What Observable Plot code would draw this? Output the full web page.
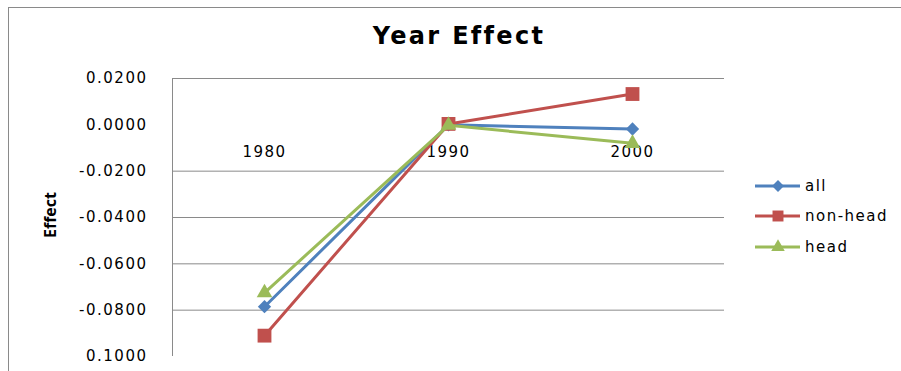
<!DOCTYPE html>
<html>
<head>
<meta charset="utf-8">
<script src="https://cdn.jsdelivr.net/npm/d3@7"></script>
<script src="https://cdn.jsdelivr.net/npm/@observablehq/plot@0.6"></script>
<style>
  html, body { margin: 0; padding: 0; background: #fff; }
  #wrap { position: relative; width: 901px; height: 371px; overflow: hidden; font-family: "DejaVu Sans", sans-serif; }
  #border { position: absolute; left: 8px; top: 7px; width: 920px; height: 400px; border: 1px solid #8a8a8a; box-sizing: border-box; }
  #title { position: absolute; left: 459px; top: 22px; transform: translateX(-50%); font: bold 24px "DejaVu Sans", sans-serif; letter-spacing: 2.3px; color: #000; white-space: nowrap; }
  #ylabel { position: absolute; left: 50px; top: 215px; transform: translate(-50%, -50%) rotate(-90deg); font-family: "Open Sans", sans-serif; font-weight: 700; font-size: 16px; line-height: 1; color: #000; white-space: nowrap; }
  #legend { position: absolute; left: 0; top: 0; }
  #chart { position: absolute; left: 0; top: 0; }
</style>
</head>
<body>
<div id="wrap">
  <div id="border"></div>
  <div id="chart"></div>
  <div id="title">Year Effect</div>
  <div id="ylabel">Effect</div>
  <svg id="legend" width="901" height="371"></svg>
</div>
<script>
const years = ["1980", "1990", "2000"];
const seriesNames = ["all", "non-head", "head"];
const allValues = [-0.0785, 0.0000, -0.0018];
const nonHeadValues = [-0.0910, 0.0004, 0.0133];
const headValues = [-0.0725, -0.0002, -0.0080];
const yTicks = [0.02, 0, -0.02, -0.04, -0.06, -0.08, -0.1];
const yTickLabels = ["0.0200", "0.0000", "-0.0200", "-0.0400", "-0.0600", "-0.0800", "0.1000"];
const gridValues = [0.02, -0.02, -0.04, -0.06, -0.08];
const colors = ["#4F81BD", "#C0504D", "#9BBB59"];
const symbols = ["diamond2", "square", "triangle"];

const seriesValues = [allValues, nonHeadValues, headValues];
const rows = [];
seriesNames.forEach((s, i) => years.forEach((y, j) => rows.push({year: y, series: s, value: seriesValues[i][j]})));

const dotR = {"all": 6, "non-head": 7.8, "head": 5.8};

const seriesMarks = [];
seriesNames.forEach((s, i) => {
  const data = rows.filter(d => d.series === s);
  seriesMarks.push(Plot.line(data, {x: "year", y: "value", stroke: colors[i], strokeWidth: 3}));
  seriesMarks.push(Plot.dot(data, {x: "year", y: "value", fill: colors[i], stroke: "none", symbol: () => symbols[i], r: dotR[s]}));
});

const leftAxisLine = (index, scales, values, dimensions) => {
  const svgNS = "http://www.w3.org/2000/svg";
  const line = document.createElementNS(svgNS, "line");
  const x = dimensions.marginLeft + 0.5;
  line.setAttribute("x1", x);
  line.setAttribute("x2", x);
  line.setAttribute("y1", scales.y(0.02));
  line.setAttribute("y2", scales.y(-0.1));
  line.setAttribute("stroke", "#8a8a8a");
  return line;
};

const chart = Plot.plot({
  width: 901,
  height: 371,
  marginLeft: 172,
  marginRight: 177,
  marginTop: 78,
  marginBottom: 15,
  style: {fontFamily: "DejaVu Sans, sans-serif", fontSize: "15px", color: "#000", background: "transparent", overflow: "visible"},
  x: {type: "point", domain: years, padding: 0.5, axis: null},
  y: {domain: [-0.1, 0.02], axis: null},
  symbol: {type: "identity"},
  marks: [
    Plot.ruleY(gridValues, {stroke: "#8a8a8a", strokeWidth: 1}),
    leftAxisLine,
    Plot.axisY(yTicks, {tickSize: 0, tickPadding: 25, tickFormat: d => yTickLabels[yTicks.indexOf(d)], fontSize: 15, fill: "#000", label: null}),
    Plot.text(years, {x: d => d, y: () => 0, dy: 27, fill: "#000", fontSize: 15}),
    ...seriesMarks
  ]
});
chart.querySelectorAll("text").forEach(t => t.style.letterSpacing = "1.5px");
document.getElementById("chart").appendChild(chart);

// Legend
const legend = d3.select("#legend");
const legendRows = [186, 216, 247];
const legendSym = [d3.symbolDiamond2, d3.symbolSquare, d3.symbolTriangle];
const legendSize = [90, 120, 80];
seriesNames.forEach((s, i) => {
  const g = legend.append("g").attr("transform", `translate(0,${legendRows[i]})`);
  g.append("line").attr("x1", 755).attr("x2", 800).attr("y1", 0).attr("y2", 0)
    .attr("stroke", colors[i]).attr("stroke-width", 3);
  g.append("path").attr("d", d3.symbol(legendSym[i], legendSize[i])())
    .attr("transform", "translate(778,0)").attr("fill", colors[i]);
  g.append("text").attr("x", 805).attr("y", 0).attr("dy", "0.35em")
    .attr("font-family", "DejaVu Sans, sans-serif").attr("font-size", 15)
    .attr("letter-spacing", "1.5px").attr("fill", "#000").text(s);
});
</script>
</body>
</html>
